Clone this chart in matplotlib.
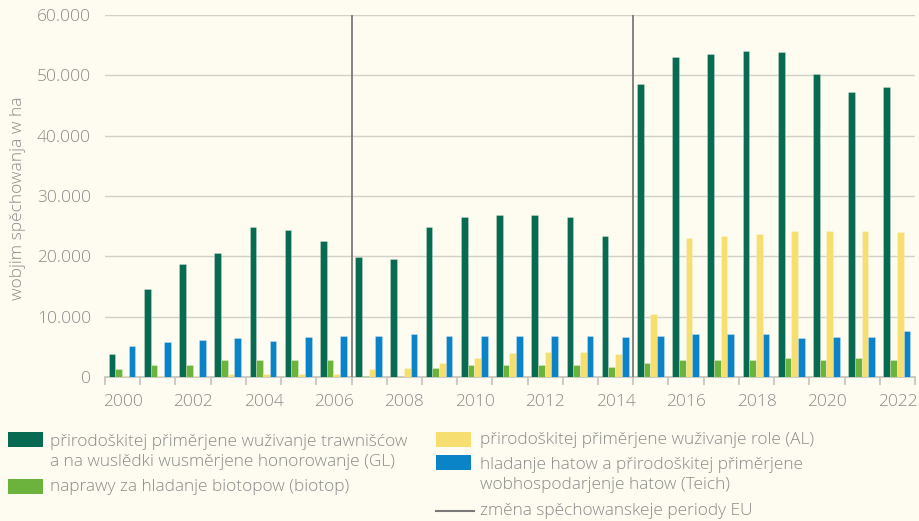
import numpy as np
import matplotlib
matplotlib.use("Agg")
import matplotlib.pyplot as plt
from matplotlib.patches import Rectangle
from matplotlib.lines import Line2D
from matplotlib.ticker import FuncFormatter, MultipleLocator

years = list(range(2000, 2023))

# ha per year
gl = [3800, 14600, 18800, 20600, 24800, 24400, 22600, 19900, 19500, 24800, 26600, 26900,
      26900, 26600, 23300, 48600, 53000, 53500, 54100, 53900, 50300, 47200, 48100]
biotop = [1300, 2000, 2000, 2900, 2900, 2900, 2800, 200, 0, 1500, 2000, 2000,
          2000, 2000, 1700, 2400, 2800, 2800, 2800, 3100, 2800, 3100, 2800]
al = [150, 150, 150, 500, 500, 500, 450, 1300, 1500, 2400, 3100, 4000,
      4200, 4200, 3800, 10400, 23000, 23300, 23700, 24200, 24200, 24200, 24000]
teich = [5100, 5800, 6200, 6500, 6000, 6600, 6850, 6850, 7100, 6850, 6850, 6850,
         6850, 6850, 6600, 6850, 7100, 7100, 7100, 6400, 6600, 6600, 7700]

period_breaks = [2006.5, 2014.5]

labels = [
    "přirodoškitej přiměrjene wuživanje trawnišćow\na na wuslědki wusměrjene honorowanje (GL)",
    "naprawy za hladanje biotopow (biotop)",
    "přirodoškitej přiměrjene wuživanje role (AL)",
    "hladanje hatow a přirodoškitej přiměrjene\nwobhospodarjenje hatow (Teich)",
    "změna spěchowanskeje periody EU",
]

c_gl = "#086a50"
c_bio = "#6cb33e"
c_al = "#f6de70"
c_teich = "#0a84c6"
c_line = "#7a7a7a"
c_text = "#8a8a8a"
bg = "#fefcf0"

plt.rcParams["font.family"] = ["Open Sans", "DejaVu Sans"]
plt.rcParams["font.weight"] = "light"

fig = plt.figure(figsize=(9.19, 5.21), dpi=100, facecolor=bg)
ax = fig.add_axes([105 / 919, 1 - 377 / 521, 810 / 919, 362 / 521])
ax.set_facecolor(bg)

x = np.array(years, dtype=float)
w = 0.19
for i, (vals, col) in enumerate([(gl, c_gl), (biotop, c_bio), (al, c_al), (teich, c_teich)]):
    ax.bar(x + (i - 1.5) * w - 0.015, vals, width=w, color=col, zorder=3,
           edgecolor=(1, 1, 1, 0.35), linewidth=0.5)

for b in period_breaks:
    ax.axvline(b, color=c_line, lw=1.3, zorder=4)

ax.set_xlim(1999.5, 2022.5)
ax.set_ylim(0, 60000)
ax.yaxis.set_major_locator(MultipleLocator(10000))
ax.yaxis.set_major_formatter(FuncFormatter(lambda v, p: format(int(v), ",").replace(",", ".")))
ax.grid(axis="y", color="#d2d0c8", lw=1.0, zorder=0)

ax.set_xticks(years[::2])
ax.set_xticklabels([str(y) for y in years[::2]])
ax.set_xticks(np.arange(1999.5, 2023, 1), minor=True)
ax.tick_params(axis="x", which="major", length=0, pad=12, labelsize=12.5, labelcolor=c_text)
ax.tick_params(axis="x", which="minor", length=6, width=1.2, color="#c4c2ba")
ax.tick_params(axis="y", length=0, pad=10, labelsize=12.5, labelcolor=c_text)

for s in ["top", "right", "left"]:
    ax.spines[s].set_visible(False)
ax.spines["bottom"].set_color("#c4c2ba")
ax.spines["bottom"].set_linewidth(1.2)

fig.text(18 / 919, 1 - 198 / 521, "wobjim spěchowanja w ha", rotation=90,
         ha="center", va="center", fontsize=12.5, color=c_text)

# legend drawn by hand
def leg_patch(px, py, col):
    fig.patches.append(Rectangle((px / 919, 1 - (py + 15) / 521), 35 / 919, 15 / 521,
                                 transform=fig.transFigure, facecolor=col, edgecolor="none"))

def leg_text(px, py, s):
    fig.text(px / 919, 1 - py / 521, s, ha="left", va="center", fontsize=12.4,
             color=c_text, linespacing=1.4)

leg_patch(8, 432, c_gl)
leg_text(50, 452, labels[0])
leg_patch(8, 479, c_bio)
leg_text(50, 487, labels[1])
leg_patch(436, 432, c_al)
leg_text(480, 440, labels[2])
leg_patch(436, 455, c_teich)
leg_text(480, 475, labels[3])
fig.lines.append(Line2D([436 / 919, 474 / 919], [1 - 511 / 521, 1 - 511 / 521],
                        transform=fig.transFigure, color=c_line, lw=1.5))
leg_text(480, 511, labels[4])

fig.savefig("out.png", dpi=100, facecolor=bg)
